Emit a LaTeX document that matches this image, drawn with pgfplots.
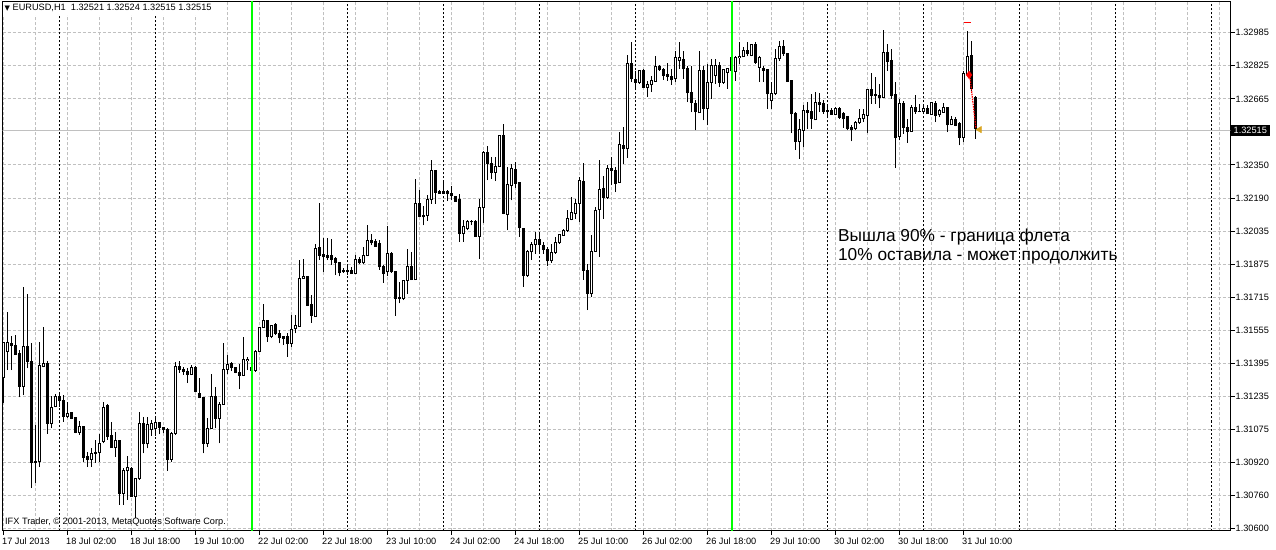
\documentclass[border=0pt]{standalone}
\usepackage{pgfplots}
\pgfplotsset{compat=1.18}
\usepackage{pgfplotstable}
\usepackage{fontspec}
\setmainfont{Liberation Sans}
\newfontfamily\dejavu{DejaVu Sans}
\definecolor{gridgray}{RGB}{192,192,192}
\definecolor{lime}{RGB}{0,255,0}
\definecolor{arroworange}{RGB}{218,165,32}
\pgfplotstableread{
i o h l c
0 1.31326 1.31499 1.31206 1.31494
1 1.31451 1.31643 1.31363 1.31494
2 1.31491 1.31526 1.31363 1.31480
3 1.31483 1.31531 1.31435 1.31438
4 1.31443 1.31459 1.31232 1.31286
5 1.31286 1.31763 1.31243 1.31478
6 1.31478 1.31728 1.31371 1.31403
7 1.31406 1.31491 1.30795 1.30918
8 1.30923 1.31099 1.30822 1.30918
9 1.30923 1.31499 1.30896 1.31387
10 1.31379 1.31568 1.31376 1.31395
11 1.31395 1.31406 1.31056 1.31107
12 1.31107 1.31238 1.31083 1.31184
13 1.31187 1.31248 1.31184 1.31235
14 1.31238 1.31251 1.31187 1.31216
15 1.31219 1.31243 1.31115 1.31139
16 1.31139 1.31211 1.31131 1.31155
17 1.31158 1.31158 1.31126 1.31131
18 1.31134 1.31134 1.31059 1.31064
19 1.31064 1.31120 1.31051 1.31091
20 1.31091 1.31096 1.30923 1.30942
21 1.30947 1.30971 1.30899 1.30934
22 1.30934 1.30987 1.30899 1.30963
23 1.30963 1.31027 1.30918 1.30968
24 1.30966 1.31056 1.30923 1.31008
25 1.31020 1.31208 1.31010 1.31184
26 1.31192 1.31198 1.31027 1.31043
27 1.31046 1.31115 1.30990 1.30990
28 1.30992 1.31067 1.30947 1.31022
29 1.31022 1.31022 1.30715 1.30771
30 1.30771 1.30891 1.30715 1.30878
31 1.30878 1.30950 1.30739 1.30896
32 1.30891 1.30899 1.30755 1.30755
33 1.30755 1.30843 1.30654 1.30840
34 1.30840 1.31163 1.30835 1.31107
35 1.31107 1.31139 1.30963 1.31008
36 1.31008 1.31139 1.30987 1.31099
37 1.31078 1.31123 1.31046 1.31107
38 1.31083 1.31139 1.31046 1.31110
39 1.31110 1.31115 1.31054 1.31088
40 1.31088 1.31091 1.31059 1.31075
41 1.31075 1.31083 1.30880 1.30934
42 1.30934 1.31067 1.30923 1.31059
43 1.31059 1.31400 1.31050 1.31380
44 1.31380 1.31405 1.31350 1.31365
45 1.31365 1.31380 1.31340 1.31355
46 1.31355 1.31375 1.31300 1.31342
47 1.31342 1.31387 1.31339 1.31375
48 1.31375 1.31382 1.31259 1.31259
49 1.31251 1.31323 1.31227 1.31230
50 1.31232 1.31232 1.30963 1.31011
51 1.31011 1.31131 1.30995 1.31083
52 1.31083 1.31342 1.31083 1.31235
53 1.31235 1.31283 1.31083 1.31131
54 1.31131 1.31211 1.31011 1.31198
55 1.31198 1.31491 1.31195 1.31366
56 1.31366 1.31435 1.31342 1.31390
57 1.31395 1.31403 1.31358 1.31374
58 1.31374 1.31379 1.31347 1.31352
59 1.31352 1.31391 1.31270 1.31337
60 1.31337 1.31523 1.31334 1.31414
61 1.31407 1.31427 1.31363 1.31414
62 1.31375 1.31387 1.31355 1.31363
63 1.31363 1.31459 1.31355 1.31454
64 1.31454 1.31571 1.31451 1.31568
65 1.31568 1.31680 1.31566 1.31603
66 1.31603 1.31606 1.31499 1.31523
67 1.31523 1.31582 1.31515 1.31579
68 1.31584 1.31590 1.31531 1.31539
69 1.31539 1.31558 1.31491 1.31518
70 1.31523 1.31526 1.31483 1.31515
71 1.31523 1.31542 1.31427 1.31491
72 1.31491 1.31627 1.31475 1.31558
73 1.31563 1.31630 1.31539 1.31579
74 1.31574 1.31894 1.31571 1.31803
75 1.31803 1.31899 1.31803 1.31814
76 1.31814 1.31814 1.31670 1.31675
77 1.31680 1.31723 1.31590 1.31627
78 1.31622 1.31971 1.31619 1.31947
79 1.31951 1.32166 1.31894 1.31915
80 1.31920 1.31998 1.31835 1.31907
81 1.31912 1.31998 1.31891 1.31902
82 1.31912 1.31995 1.31870 1.31894
83 1.31899 1.31907 1.31819 1.31878
84 1.31878 1.31883 1.31814 1.31830
85 1.31843 1.31854 1.31830 1.31835
86 1.31843 1.31867 1.31819 1.31835
87 1.31840 1.31859 1.31824 1.31827
88 1.31827 1.31915 1.31824 1.31894
89 1.31894 1.31907 1.31871 1.31878
90 1.31878 1.31955 1.31875 1.31915
91 1.31915 1.32062 1.31910 1.31987
92 1.31987 1.32019 1.31963 1.31974
93 1.31979 1.31995 1.31955 1.31958
94 1.31971 1.31987 1.31846 1.31859
95 1.31859 1.31867 1.31782 1.31827
96 1.31835 1.32054 1.31814 1.31923
97 1.31923 1.31931 1.31830 1.31835
98 1.31838 1.31838 1.31624 1.31707
99 1.31707 1.31787 1.31683 1.31712
100 1.31707 1.31795 1.31699 1.31795
101 1.31795 1.31947 1.31731 1.31862
102 1.31862 1.31931 1.31795 1.31798
103 1.31798 1.32283 1.31795 1.32163
104 1.32163 1.32227 1.32099 1.32102
105 1.32107 1.32150 1.32059 1.32099
106 1.32107 1.32206 1.32080 1.32182
107 1.32182 1.32371 1.32163 1.32323
108 1.32323 1.32323 1.32163 1.32219
109 1.32222 1.32227 1.32214 1.32214
110 1.32222 1.32267 1.32211 1.32214
111 1.32222 1.32230 1.32175 1.32214
112 1.32211 1.32246 1.32179 1.32200
113 1.32198 1.32198 1.32171 1.32175
114 1.32182 1.32211 1.31979 1.32019
115 1.32019 1.32083 1.31979 1.32051
116 1.32043 1.32083 1.32035 1.32078
117 1.32075 1.32083 1.32059 1.32078
118 1.32078 1.32083 1.32003 1.32006
119 1.32006 1.32187 1.31899 1.32144
120 1.32144 1.32416 1.32070 1.32411
121 1.32411 1.32438 1.32275 1.32355
122 1.32355 1.32387 1.32283 1.32315
123 1.32315 1.32387 1.32271 1.32342
124 1.32342 1.32491 1.32339 1.32491
125 1.32491 1.32547 1.32111 1.32118
126 1.32111 1.32339 1.32035 1.32254
127 1.32251 1.32355 1.32179 1.32331
128 1.32326 1.32363 1.32238 1.32262
129 1.32264 1.32264 1.32003 1.32047
130 1.32043 1.32043 1.31763 1.31819
131 1.31819 1.31939 1.31811 1.31931
132 1.31931 1.31979 1.31894 1.31966
133 1.31966 1.32027 1.31923 1.31992
134 1.31992 1.32027 1.31926 1.31968
135 1.31963 1.31979 1.31923 1.31942
136 1.31942 1.31955 1.31863 1.31888
137 1.31888 1.31971 1.31878 1.31928
138 1.31928 1.32003 1.31923 1.31976
139 1.31974 1.32019 1.31971 1.32014
140 1.32011 1.32043 1.32011 1.32035
141 1.32035 1.32134 1.32027 1.32091
142 1.32088 1.32195 1.32083 1.32119
143 1.32118 1.32187 1.32091 1.32166
144 1.32166 1.32291 1.32075 1.32275
145 1.32270 1.32358 1.31798 1.31843
146 1.31843 1.31875 1.31651 1.31731
147 1.31731 1.32011 1.31715 1.31934
148 1.31934 1.32147 1.31931 1.32131
149 1.32134 1.32371 1.31907 1.32230
150 1.32235 1.32294 1.32091 1.32192
151 1.32192 1.32347 1.32187 1.32334
152 1.32334 1.32387 1.32251 1.32323
153 1.32323 1.32339 1.32219 1.32262
154 1.32267 1.32507 1.32262 1.32446
155 1.32443 1.32531 1.32355 1.32427
156 1.32427 1.32880 1.32384 1.32835
157 1.32835 1.32942 1.32747 1.32763
158 1.32758 1.32803 1.32715 1.32747
159 1.32747 1.32806 1.32739 1.32803
160 1.32803 1.32811 1.32719 1.32723
161 1.32723 1.32751 1.32675 1.32734
162 1.32734 1.32779 1.32699 1.32755
163 1.32751 1.32875 1.32751 1.32822
164 1.32822 1.32830 1.32803 1.32806
165 1.32806 1.32816 1.32758 1.32779
166 1.32782 1.32839 1.32755 1.32776
167 1.32774 1.32811 1.32734 1.32758
168 1.32763 1.32899 1.32750 1.32864
169 1.32851 1.32939 1.32811 1.32867
170 1.32856 1.32899 1.32763 1.32811
171 1.32811 1.32827 1.32651 1.32696
172 1.32696 1.32827 1.32603 1.32651
173 1.32646 1.32659 1.32515 1.32606
174 1.32600 1.32899 1.32600 1.32803
175 1.32803 1.32827 1.32563 1.32622
176 1.32622 1.32835 1.32539 1.32747
177 1.32747 1.32859 1.32667 1.32827
178 1.32779 1.32859 1.32739 1.32827
179 1.32827 1.32843 1.32723 1.32747
180 1.32747 1.32811 1.32739 1.32808
181 1.32795 1.32814 1.32715 1.32811
182 1.32867 1.32891 1.32795 1.32803
183 1.32798 1.32875 1.32755 1.32867
184 1.32864 1.32939 1.32835 1.32870
185 1.32870 1.32915 1.32867 1.32899
186 1.32899 1.32939 1.32871 1.32883
187 1.32875 1.32928 1.32871 1.32928
188 1.32928 1.32939 1.32835 1.32843
189 1.32819 1.32875 1.32747 1.32867
190 1.32811 1.32827 1.32747 1.32803
191 1.32806 1.32811 1.32619 1.32691
192 1.32659 1.32747 1.32619 1.32691
193 1.32691 1.32908 1.32685 1.32859
194 1.32859 1.32945 1.32848 1.32920
195 1.32920 1.32950 1.32875 1.32883
196 1.32883 1.32883 1.32747 1.32751
197 1.32755 1.32758 1.32502 1.32595
198 1.32595 1.32603 1.32422 1.32463
199 1.32463 1.32571 1.32379 1.32518
200 1.32515 1.32635 1.32435 1.32611
201 1.32611 1.32651 1.32523 1.32603
202 1.32607 1.32691 1.32523 1.32571
203 1.32566 1.32699 1.32563 1.32647
204 1.32642 1.32694 1.32603 1.32647
205 1.32646 1.32659 1.32595 1.32607
206 1.32611 1.32639 1.32584 1.32607
207 1.32611 1.32624 1.32590 1.32592
208 1.32592 1.32627 1.32587 1.32619
209 1.32619 1.32627 1.32571 1.32579
210 1.32598 1.32603 1.32527 1.32571
211 1.32582 1.32582 1.32515 1.32523
212 1.32527 1.32539 1.32463 1.32518
213 1.32523 1.32560 1.32515 1.32555
214 1.32552 1.32619 1.32547 1.32571
215 1.32571 1.32619 1.32555 1.32592
216 1.32587 1.32715 1.32502 1.32710
217 1.32712 1.32792 1.32643 1.32683
218 1.32686 1.32771 1.32643 1.32683
219 1.32683 1.32739 1.32622 1.32675
220 1.32675 1.32999 1.32675 1.32888
221 1.32888 1.32931 1.32803 1.32846
222 1.32851 1.32907 1.32667 1.32683
223 1.32686 1.32750 1.32334 1.32483
224 1.32488 1.32667 1.32467 1.32643
225 1.32643 1.32659 1.32499 1.32531
226 1.32531 1.32571 1.32456 1.32510
227 1.32510 1.32635 1.32510 1.32623
228 1.32623 1.32686 1.32595 1.32607
229 1.32607 1.32643 1.32603 1.32606
230 1.32607 1.32632 1.32599 1.32619
231 1.32619 1.32635 1.32593 1.32595
232 1.32591 1.32651 1.32590 1.32647
233 1.32643 1.32659 1.32555 1.32587
234 1.32590 1.32619 1.32579 1.32611
235 1.32603 1.32647 1.32599 1.32627
236 1.32627 1.32627 1.32507 1.32542
237 1.32542 1.32583 1.32539 1.32567
238 1.32567 1.32579 1.32535 1.32539
239 1.32547 1.32555 1.32443 1.32483
240 1.32483 1.32803 1.32459 1.32787
241 1.32782 1.32995 1.32779 1.32872
242 1.32875 1.32947 1.32707 1.32718
243 1.32675 1.32683 1.32475 1.32523
244 1.32521 1.32524 1.32515 1.32515
}\candles
\begin{document}
\begin{tikzpicture}[x=1pt,y=1pt]
\path[use as bounding box] (0,0) rectangle (1276,549);
\fill[white] (0,0) rectangle (1276,549);
\begin{axis}[
  at={(2.5pt,18.5pt)}, anchor=south west,
  scale only axis, width=1228pt, height=529pt,
  xmin=-0.25, xmax=306.75,
  ymin=1.305916, ymax=1.331350,
  clip mode=individual,
  axis line style={black, line width=1pt},
  font=\fontsize{9.2}{11}\selectfont,
  tick label style={font=\fontsize{9.2}{11}\selectfont},
  xtick pos=bottom, ytick pos=right, yticklabel pos=right,
  tick align=outside,
  major tick length=4pt, minor tick length=0pt,
  tick style={black, line width=1pt},
  xtick={0,16,...,240},
  xticklabels={17 Jul 2013,18 Jul 02:00,18 Jul 18:00,19 Jul 10:00,22 Jul 02:00,22 Jul 18:00,23 Jul 10:00,24 Jul 02:00,24 Jul 18:00,25 Jul 10:00,26 Jul 02:00,26 Jul 18:00,29 Jul 10:00,30 Jul 02:00,30 Jul 18:00,31 Jul 10:00},
  xticklabel style={anchor=north west, inner sep=0pt, xshift=-1.5pt, yshift=-3pt},
  minor xtick={8,16,...,304},
  ytick={1.30600,1.30759,1.30918,1.31077,1.31236,1.31395,1.31554,1.31713,1.31872,1.32031,1.32190,1.32349,1.32667,1.32826,1.32985},
  yticklabels={1.30600,1.30760,1.30920,1.31075,1.31235,1.31395,1.31555,1.31715,1.31875,1.32035,1.32190,1.32350,1.32665,1.32825,1.32985},
  yticklabel style={anchor=west, inner sep=0pt, xshift=1pt},
  grid=both,
  major grid style={gridgray, line width=1pt, dash pattern=on 3pt off 2pt},
  minor grid style={gridgray, line width=1pt, dash pattern=on 3pt off 2pt},
  extra x ticks={14,38,62,86,110,134,158,182,206,230,254,278,302},
  extra x tick labels={},
  extra x tick style={grid=major, major tick length=0pt, major grid style={black, line width=1pt, dash pattern=on 2pt off 2pt}},
]
% bid line
\addplot[gridgray, line width=1pt, forget plot] coordinates {(-1,1.32515) (310,1.32515)};
% wicks
\addplot[draw=none, mark=none, forget plot,
  error bars/.cd, y dir=plus, y explicit, error mark=none,
  error bar style={draw=black, solid, line width=1pt}]
  table[x=i, y=l, y error expr=\thisrow{h}-\thisrow{l}] {\candles};
% bodies (black)
\addplot[draw=none, mark=none, forget plot,
  error bars/.cd, y dir=plus, y explicit, error mark=none,
  error bar style={draw=black, solid, line width=3pt}]
  table[x=i, y expr={min(\thisrow{o},\thisrow{c})-0.000024}, y error expr={abs(\thisrow{c}-\thisrow{o})+0.000048}] {\candles};
% bodies (white inner for bullish)
\addplot[draw=none, mark=none, forget plot,
  error bars/.cd, y dir=plus, y explicit, error mark=none,
  error bar style={draw=white, solid, line width=1pt}]
  table[x=i, y expr={min(\thisrow{o},\thisrow{c})+0.000024}, y error expr={(\thisrow{c}>\thisrow{o}+0.00005)*(abs(\thisrow{c}-\thisrow{o})-0.000048)}] {\candles};
% week separators
\addplot[lime, line width=2pt, forget plot] coordinates {(62,1.3058) (62,1.3315)};
\addplot[lime, line width=2pt, forget plot] coordinates {(182,1.3058) (182,1.3315)};
% trade markers
\addplot[red, line width=1pt, forget plot] coordinates {(240.1,1.33036) (241.9,1.33036)};
\addplot[red, line width=1.2pt, dash pattern=on 1.5pt off 1pt, forget plot] coordinates {(241.6,1.32775) (243.1,1.32527)};
\addplot[only marks, mark=diamond*, mark size=3.8pt, mark options={fill=red, draw=red}, forget plot] coordinates {(241.4,1.32782)};
\addplot[only marks, mark=triangle*, mark size=3.6pt, mark options={rotate=90, fill=arroworange, draw=arroworange}, forget plot] coordinates {(244.0,1.32519)};
% title
\node[anchor=north west, fill=white, inner xsep=2pt, inner ysep=1pt, minimum height=13pt] at (rel axis cs:0,1) {{\dejavu\fontsize{7}{8}\selectfont ▼}\ EURUSD,H1\ \ 1.32521 1.32524 1.32515 1.32515};
% copyright
\node[anchor=west, inner sep=0pt] at (rel axis cs:0.002,0.016) {IFX Trader, © 2001-2013, MetaQuotes Software Corp.};
% bid box
\node[anchor=west, fill=black, text=white, inner xsep=3pt, inner ysep=2pt] at (axis cs:306.75,1.32515) {1.32515};
% annotation
\node[anchor=west, align=left, inner sep=0pt, font=\fontsize{17.3}{19}\selectfont] at (axis cs:208.6,1.31957) {Вышла 90\% - граница флета\\10\% оставила - может продолжить};
\end{axis}
\end{tikzpicture}
\end{document}
